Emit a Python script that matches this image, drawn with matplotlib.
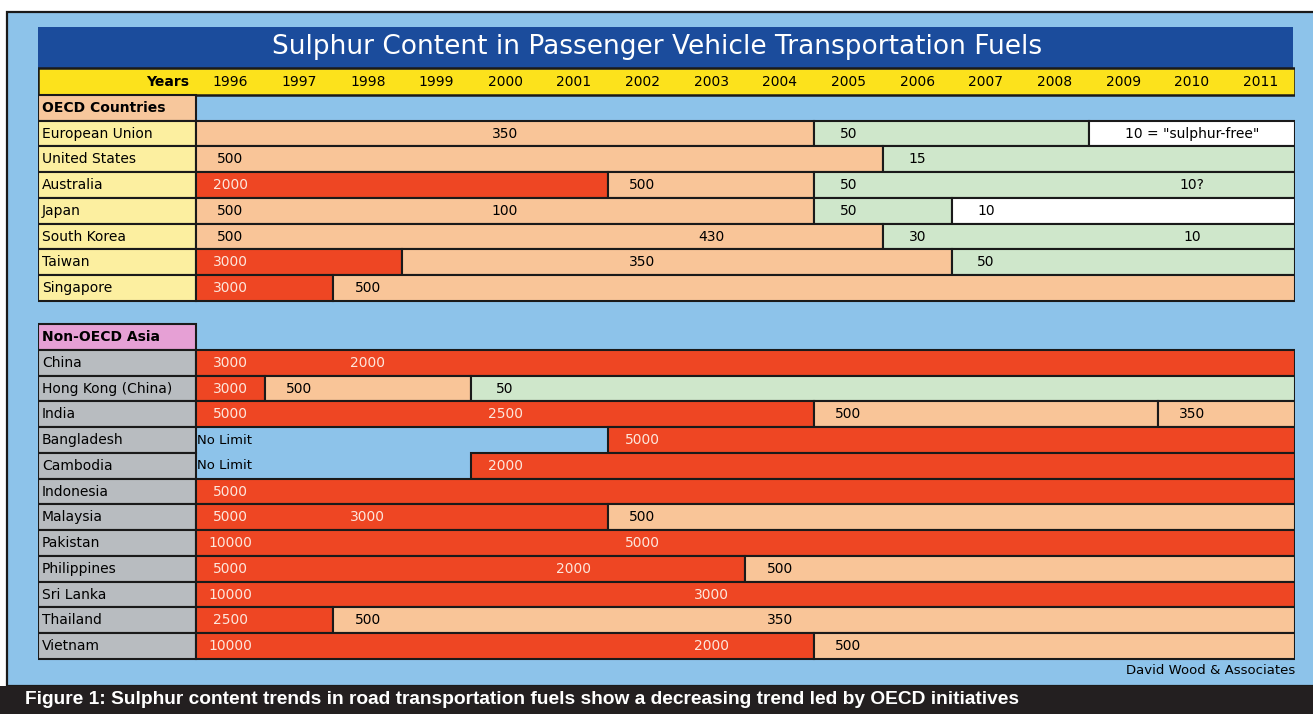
import matplotlib.pyplot as plt
from matplotlib.patches import Rectangle

W, H = 1313, 714

years = list(range(1996, 2012))

oecd_countries = ["European Union", "United States", "Australia", "Japan",
                  "South Korea", "Taiwan", "Singapore"]
# (start year, end year, ppm limit) blocks as drawn in the chart
oecd_blocks = [
    [(1996, 2005, 350), (2005, 2009, 50), (2009, 2012, 10)],
    [(1996, 2006, 500), (2006, 2012, 15)],
    [(1996, 2002, 2000), (2002, 2005, 500), (2005, 2012, 50)],
    [(1996, 2005, 500), (2005, 2007, 50), (2007, 2012, 10)],
    [(1996, 2006, 500), (2006, 2012, 30)],
    [(1996, 1999, 3000), (1999, 2007, 350), (2007, 2012, 50)],
    [(1996, 1998, 3000), (1998, 2012, 500)],
]
oecd_labels = [
    [(2000, "350"), (2005, "50"), (2010, '10 = "sulphur-free"')],
    [(1996, "500"), (2006, "15")],
    [(1996, "2000"), (2002, "500"), (2005, "50"), (2010, "10?")],
    [(1996, "500"), (2000, "100"), (2005, "50"), (2007, "10")],
    [(1996, "500"), (2003, "430"), (2006, "30"), (2010, "10")],
    [(1996, "3000"), (2002, "350"), (2007, "50")],
    [(1996, "3000"), (1998, "500")],
]

asia_countries = ["China", "Hong Kong (China)", "India", "Bangladesh", "Cambodia",
                  "Indonesia", "Malaysia", "Pakistan", "Philippines", "Sri Lanka",
                  "Thailand", "Vietnam"]
asia_blocks = [
    [(1996, 2012, 3000)],
    [(1996, 1997, 3000), (1997, 2000, 500), (2000, 2012, 50)],
    [(1996, 2005, 5000), (2005, 2010, 500), (2010, 2012, 350)],
    [(2002, 2012, 5000)],
    [(2000, 2012, 2000)],
    [(1996, 2012, 5000)],
    [(1996, 2002, 5000), (2002, 2012, 500)],
    [(1996, 2012, 10000)],
    [(1996, 2004, 5000), (2004, 2012, 500)],
    [(1996, 2012, 10000)],
    [(1996, 1998, 2500), (1998, 2012, 500)],
    [(1996, 2005, 10000), (2005, 2012, 500)],
]
asia_labels = [
    [(1996, "3000"), (1998, "2000")],
    [(1996, "3000"), (1997, "500"), (2000, "50")],
    [(1996, "5000"), (2000, "2500"), (2005, "500"), (2010, "350")],
    [(1996, "No Limit"), (2002, "5000")],
    [(1996, "No Limit"), (2000, "2000")],
    [(1996, "5000")],
    [(1996, "5000"), (1998, "3000"), (2002, "500")],
    [(1996, "10000"), (2002, "5000")],
    [(1996, "5000"), (2001, "2000"), (2004, "500")],
    [(1996, "10000"), (2003, "3000")],
    [(1996, "2500"), (1998, "500"), (2004, "350")],
    [(1996, "10000"), (2003, "2000"), (2005, "500")],
]

RED = "#ee4623"
PEACH = "#f9c598"
GREEN = "#cfe7cb"
WHITE = "#ffffff"
BG = "#8dc3ea"
EDGE = "#1a1a1a"


def block_colour(ppm):
    if ppm >= 1000:
        return RED
    if ppm >= 100:
        return PEACH
    if ppm > 10:
        return GREEN
    return WHITE


fig = plt.figure(figsize=(W / 100, H / 100), dpi=100)
fig.patch.set_facecolor("white")

# outer frame and caption bar
fig.patches.append(Rectangle((7 / W, 28 / H), 1.0, 674 / H, transform=fig.transFigure,
                             facecolor=BG, edgecolor=EDGE, linewidth=1.6, zorder=0))
fig.patches.append(Rectangle((0, 0), 1, 28 / H, transform=fig.transFigure,
                             facecolor="#231f20", edgecolor="none", zorder=1))
fig.text(25 / W, 14 / H,
         "Figure 1: Sulphur content trends in road transportation fuels show a "
         "decreasing trend led by OECD initiatives",
         color="white", fontsize=13.8, fontweight="bold",
         family=["Liberation Sans", "DejaVu Sans"], va="center", ha="left")

ax = fig.add_axes([38 / W, 28 / H, (1295 - 38) / W, (686 - 27) / H])
ax.set_zorder(5)
ax.set_xlim(1993.70, 2012.0)
ax.set_ylim(22.95, -2.64)
ax.axis("off")

x0 = 1993.70
label_w = 1996 - x0
right = 2012

# title bar
ax.add_patch(Rectangle((x0, -2.64), 2011.97 - x0, 1.59, facecolor="#1b4c9c",
                       edgecolor="none"))
ax.text((x0 + 2011.97) / 2 - 0.12, -1.86,
        "Sulphur Content in Passenger Vehicle Transportation Fuels",
        color="white", fontsize=19, ha="center", va="center")

# year header
ax.add_patch(Rectangle((x0, -1.05), right - x0, 1.05, facecolor="#fce21c",
                       edgecolor=EDGE, linewidth=1.8))
ax.text(1995.9, -0.5, "Years", fontsize=10, ha="right", va="center", fontweight="bold")
for yr in years:
    ax.text(yr + 0.5, -0.5, str(yr), fontsize=10, ha="center", va="center")


def draw_group(top, header, header_colour, countries, blocks, labels, cell_colour):
    ax.add_patch(Rectangle((x0, top), label_w, 1, facecolor=header_colour,
                           edgecolor=EDGE, linewidth=1.5))
    ax.text(x0 + 0.06, top + 0.5, header, fontsize=10, fontweight="bold",
            ha="left", va="center")
    for i, name in enumerate(countries):
        y = top + 1 + i
        ax.add_patch(Rectangle((x0, y), label_w, 1, facecolor=cell_colour,
                               edgecolor=EDGE, linewidth=1.5))
        ax.text(x0 + 0.06, y + 0.5, name, fontsize=10, ha="left", va="center")
        for start, end, ppm in blocks[i]:
            ax.barh(y + 0.5, end - start, left=start, height=1,
                    color=block_colour(ppm), edgecolor=EDGE, linewidth=1.5)
        for yr, txt in labels[i]:
            under = [b for b in blocks[i] if b[0] <= yr < b[1]]
            on_red = bool(under) and block_colour(under[0][2]) == RED
            colour = "#fde6dc" if on_red else "black"
            if txt == "No Limit":
                ax.text(yr + 0.02, y + 0.5, txt, fontsize=9.5, ha="left",
                        va="center", color=colour)
            else:
                ax.text(yr + 0.5, y + 0.5, txt, fontsize=10, ha="center",
                        va="center", color=colour)


draw_group(0, "OECD Countries", "#f7c79c", oecd_countries, oecd_blocks,
           oecd_labels, "#fcefa0")
draw_group(8.9, "Non-OECD Asia", "#e6a0d5", asia_countries, asia_blocks,
           asia_labels, "#b8bcc0")

ax.text(right, 22.35, "David Wood & Associates", fontsize=9.5, ha="right",
        va="center")

fig.savefig("out.png", dpi=100)
